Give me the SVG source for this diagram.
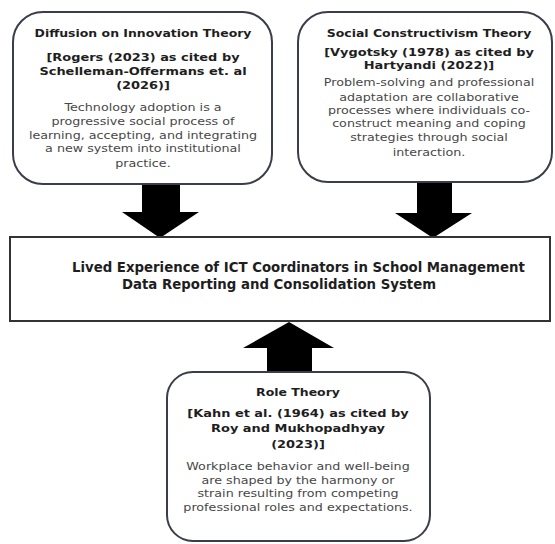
<svg xmlns="http://www.w3.org/2000/svg" width="555" height="544" viewBox="0 0 555 544">
<style>
.box{fill:#fff;stroke:#3a3d4a;stroke-width:2}
.t{font-family:"DejaVu Sans","Verdana",sans-serif;text-anchor:middle;fill:#1e1e1e}
.ti{font-size:10.4px;font-weight:bold}
.br{font-size:10.8px;font-weight:bold}
.bd{font-size:10.6px;fill:#474747}
.mn{font-size:13.3px;font-weight:bold;text-anchor:start}
.arr{fill:#000}
</style>
<rect width="555" height="544" fill="#fff"/>
<g id="connectors">
<polygon class="arr" points="142,184 180,184 180,212 199,212 160,238 122,212 142,212"/>
<polygon class="arr" points="417,183 452,183 452,213 472,213 433,238 395,213 417,213"/>
<polygon class="arr" points="267,372 312,372 312,348 334,348 289,322 243,348 267,348"/>
</g>
<g id="diffusion">
<rect class="box" x="13" y="12" width="259" height="172" rx="30"/>
<g transform="translate(143 0) scale(1.2 1)">
<text class="t ti" x="0" y="37">Diffusion on Innovation Theory</text>
<text class="t br" x="0" y="61">[Rogers (2023) as cited by</text>
<text class="t br" x="0" y="75">Schelleman-Offermans et. al</text>
<text class="t br" x="0" y="89">(2026)]</text>
<text class="t bd" x="0" y="111">Technology adoption is a</text>
<text class="t bd" x="0" y="125">progressive social process of</text>
<text class="t bd" x="0" y="139">learning, accepting, and integrating</text>
<text class="t bd" x="0" y="152">a new system into institutional</text>
<text class="t bd" x="0" y="167">practice.</text>
</g>
</g>
<g id="social">
<rect class="box" x="298" y="12" width="254" height="170" rx="30"/>
<g transform="translate(429 0) scale(1.2 1)">
<text class="t ti" x="0" y="37">Social Constructivism Theory</text>
<text class="t br" x="0" y="56">[Vygotsky (1978) as cited by</text>
<text class="t br" x="0" y="69">Hartyandi (2022)]</text>
<text class="t bd" x="0" y="86">Problem-solving and professional</text>
<text class="t bd" x="0" y="101">adaptation are collaborative</text>
<text class="t bd" x="0" y="114">processes where individuals co-</text>
<text class="t bd" x="0" y="127">construct meaning and coping</text>
<text class="t bd" x="0" y="141">strategies through social</text>
<text class="t bd" x="0" y="156">interaction.</text>
</g>
</g>
<g id="lived">
<rect x="10" y="237" width="540" height="84" fill="#fff" stroke="#333" stroke-width="2"/>
<text class="t mn" x="72" y="272">Lived Experience of ICT Coordinators in School Management</text>
<text class="t mn" x="122" y="289">Data Reporting and Consolidation System</text>
</g>
<g id="role">
<rect class="box" x="167" y="372" width="263" height="169" rx="26"/>
<g transform="translate(298 0) scale(1.2 1)">
<text class="t ti" x="0" y="396">Role Theory</text>
<text class="t br" x="0" y="417">[Kahn et al. (1964) as cited by</text>
<text class="t br" x="0" y="432">Roy and Mukhopadhyay</text>
<text class="t br" x="0" y="448">(2023)]</text>
<text class="t bd" x="0" y="470">Workplace behavior and well-being</text>
<text class="t bd" x="0" y="484">are shaped by the harmony or</text>
<text class="t bd" x="0" y="497">strain resulting from competing</text>
<text class="t bd" x="0" y="511">professional roles and expectations.</text>
</g>
</g>
</svg>
